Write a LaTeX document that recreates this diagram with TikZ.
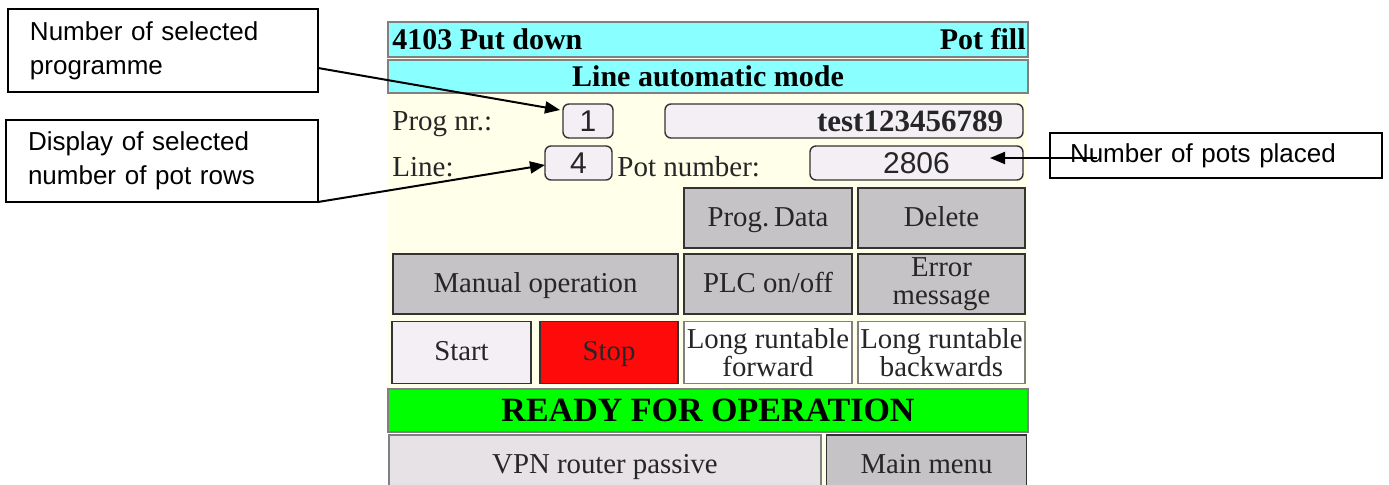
\documentclass[tikz,border=0pt]{standalone}
\usepackage{fontspec}
\setmainfont{Liberation Serif}
\setsansfont{Liberation Sans}
\usetikzlibrary{positioning,arrows.meta}
\definecolor{PanelBg}{HTML}{FFFFEA}
\definecolor{HeadCyan}{HTML}{8AFFFF}
\definecolor{BtnGray}{HTML}{C6C3C6}
\definecolor{FieldBg}{HTML}{F3EFF5}
\definecolor{StopRed}{HTML}{FF0A0A}
\definecolor{ReadyGreen}{HTML}{00FF00}
\definecolor{VpnGray}{HTML}{E6E2E6}

\begin{document}
\begin{tikzpicture}[x=0.5pt,y=-0.5pt]
  \tikzset{CalloutStyle/.style = {
    shape         = rectangle,
    draw          = black,
    fill          = white,
    line width    = 0.8pt,
    text          = black,
    align         = left,
    font          = \sffamily\fontsize{13}{17}\selectfont,
    inner xsep    = 11pt,
    inner ysep    = 0pt,
    outer sep     = 0pt
    }
  }
  \tikzset{BarStyle/.style = {
    shape         = rectangle,
    draw          = gray,
    fill          = HeadCyan,
    line width    = 0.8pt,
    text          = black,
    font          = \bfseries\fontsize{15}{16}\selectfont,
    minimum width = 320pt,
    inner sep     = 0pt,
    outer sep     = 0pt
    }
  }
  \tikzset{LabelStyle/.style = {
    inner sep     = 0pt,
    text          = black!85,
    font          = \fontsize{14.5}{15}\selectfont
    }
  }
  \tikzset{FieldStyle/.style = {
    shape           = rectangle,
    rounded corners = 3pt,
    draw            = black!80,
    fill            = FieldBg,
    line width      = 0.7pt,
    text            = black!85,
    font            = \sffamily\fontsize{15}{16}\selectfont,
    minimum height  = 17pt,
    inner sep       = 0pt,
    outer sep       = 0pt
    }
  }
  \tikzset{ButtonStyle/.style = {
    shape          = rectangle,
    draw           = black!80,
    fill           = BtnGray,
    line width     = 0.9pt,
    text           = black!85,
    align          = center,
    font           = \fontsize{14.4}{14}\selectfont,
    minimum height = 30pt,
    inner sep      = 0pt,
    outer sep      = 0pt
    }
  }
  \tikzset{OneLine/.style = {
    text height   = 10.5pt,
    text depth    = 2pt
    }
  }
  \tikzset{ArrowStyle/.style = {
    draw          = black,
    line width    = 1pt,
    -{Triangle[length=7.5pt,width=6pt]}
    }
  }

  \clip (0,0) rectangle (1389,485);
  \fill[PanelBg] (388,57) rectangle (1028,485);

  % header bars
  \node[BarStyle, minimum height=17.5pt](H1) at (708,39.5) {};
  \node[LabelStyle, font=\bfseries\fontsize{15}{16}\selectfont, text=black, right=2pt of H1.west](H1a) {4103 Put down};
  \node[LabelStyle, font=\bfseries\fontsize{15}{16}\selectfont, text=black, left=1pt of H1.east](H1b) {Pot fill};
  \node[BarStyle, minimum height=16.5pt](H2) at (708,76.5) {Line automatic mode};

  % programme and line
  \node[LabelStyle, anchor=west](P0) at (392,124) {Prog nr.:};
  \node[FieldStyle, minimum width=25pt](P1) at (588,121) {1};
  \node[FieldStyle, font=\bfseries\fontsize{15.5}{16}\selectfont, text width=159pt, align=right, inner xsep=10pt](P2) at (844,121) {test123456789};
  \node[LabelStyle, anchor=west](L0) at (392,167) {Line:};
  \node[FieldStyle, minimum width=33.5pt](L1) at (578.5,163) {4};
  \node[LabelStyle, anchor=west](L2) at (617,167) {Pot number:};
  \node[FieldStyle, minimum width=106.5pt](F2) at (916.5,163) {2806};

  % buttons
  \node[ButtonStyle, OneLine, minimum width=84pt](B1) at (768,218) {Prog.\,Data};
  \node[ButtonStyle, OneLine, minimum width=83.5pt](B2) at (941.5,218) {Delete};
  \node[ButtonStyle, OneLine, minimum width=142.5pt](B3) at (535.5,284) {Manual operation};
  \node[ButtonStyle, OneLine, minimum width=84pt](B4) at (768,284) {PLC on/off};
  \node[ButtonStyle, minimum width=83.5pt](B5) at (941.5,284) {Error\\message};
  \node[ButtonStyle, OneLine, fill=FieldBg, minimum width=69.5pt, minimum height=31pt](B6) at (461.5,352.5) {Start};
  \node[ButtonStyle, OneLine, fill=StopRed, minimum width=69pt, minimum height=31pt](B7) at (609,352.5) {Stop};
  \node[ButtonStyle, fill=white, draw=gray, minimum width=84pt, minimum height=31pt](B8) at (768,352.5) {Long runtable\\forward};
  \node[ButtonStyle, fill=white, draw=gray, minimum width=83.5pt, minimum height=31pt](B9) at (941.5,352.5) {Long runtable\\backwards};
  \node[BarStyle, fill=ReadyGreen, font=\bfseries\fontsize{17}{18}\selectfont, minimum height=21.5pt](R1) at (708,410.5) {READY FOR OPERATION};
  \node[ButtonStyle, OneLine, fill=VpnGray, draw=gray, minimum width=216pt, minimum height=30pt](V1) at (605,465) {VPN router passive};
  \node[ButtonStyle, OneLine, minimum width=100pt, minimum height=30pt](V2) at (926.5,465) {Main menu};

  % callouts
  \node[CalloutStyle, text width=133pt, minimum height=41.5pt](C1) at (163,50.5) {Number of selected\\programme};
  \node[CalloutStyle, text width=134pt, minimum height=41pt](C2) at (162,161) {Display of selected\\number of pot rows};
  \node[CalloutStyle, text width=146pt, inner xsep=10pt, minimum height=22.5pt](C3) at (1216,155.5) {Number of pots placed};

  \draw[ArrowStyle]([yshift=-8.75pt]C1.east) to ([xshift=-1.5pt,yshift=5.5pt]P1.west);
  \draw[ArrowStyle](C2.south east) to ([yshift=-1pt]L1.west);
  \draw[ArrowStyle]([xshift=23.5pt,yshift=-1.25pt]C3.west) to ([xshift=-16.5pt,yshift=2.5pt]F2.east);

\end{tikzpicture}
\end{document}
